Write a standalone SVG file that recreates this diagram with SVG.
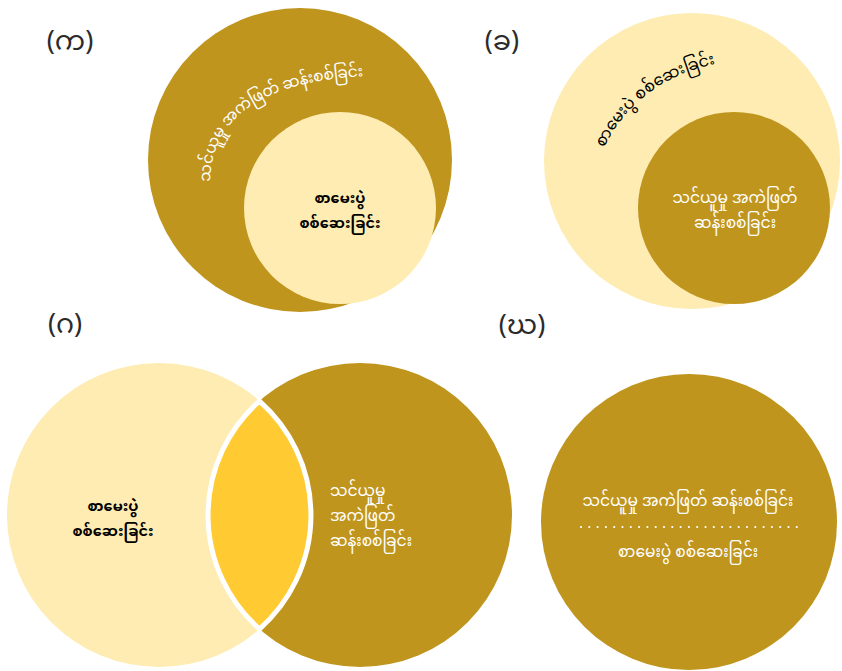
<svg xmlns="http://www.w3.org/2000/svg" width="842" height="671" viewBox="0 0 842 671">
<defs>
<style>
.dark{fill:#BF951E}
.light{fill:#FEECB2}
.lens{fill:#FFCA32;stroke:#FFFFFF;stroke-width:5}
text{font-family:"Noto Sans Myanmar","Padauk","Myanmar Text","Noto Sans",sans-serif}
.lbl{font-size:27px;fill:#2B2B2B;font-weight:normal}
.w{fill:#FFFFFF;font-size:15.5px}
.b{fill:#000000;font-size:14.5px;font-weight:bold}
.bn{fill:#000000;font-size:16px}
</style>
<path id="arcA" d="M 210 182 Q 212 84 366 76"/>
<path id="arcB" d="M 604 148 Q 638 78 724 62"/>
</defs>

<g id="panel-ka">
<text class="lbl" x="70" y="50" text-anchor="middle">(က)</text>
<circle class="dark" cx="300" cy="160" r="152"/>
<text class="w" style="font-size:15.5px"><textPath href="#arcA" textLength="208" lengthAdjust="spacing">သင်ယူမှု အကဲဖြတ် ဆန်းစစ်ခြင်း</textPath></text>
<g id="ka-inner">
<circle class="light" cx="340" cy="208" r="96"/>
<text class="b" x="340" y="203" text-anchor="middle">စာမေးပွဲ</text>
<text class="b" x="340" y="228" text-anchor="middle">စစ်ဆေးခြင်း</text>
</g>
</g>

<g id="panel-kha">
<text class="lbl" x="502" y="50" text-anchor="middle">(ခ)</text>
<circle class="light" cx="692" cy="161" r="148"/>
<text class="bn"><textPath href="#arcB">စာမေးပွဲ စစ်ဆေးခြင်း</textPath></text>
<g id="kha-inner">
<circle class="dark" cx="734" cy="208" r="96"/>
<text class="w" x="735" y="203" text-anchor="middle">သင်ယူမှု အကဲဖြတ်</text>
<text class="w" x="735" y="228" text-anchor="middle">ဆန်းစစ်ခြင်း</text>
</g>
</g>

<g id="panel-ga">
<text class="lbl" x="65" y="333" text-anchor="middle">(ဂ)</text>
<g id="ga-left">
<circle class="light" cx="159" cy="515" r="152"/>
<text class="b" x="113" y="511" text-anchor="middle">စာမေးပွဲ</text>
<text class="b" x="113" y="536" text-anchor="middle">စစ်ဆေးခြင်း</text>
</g>
<g id="ga-right">
<circle class="dark" cx="360" cy="515" r="152"/>
<text class="w" x="330" y="496">သင်ယူမှု</text>
<text class="w" x="330" y="521">အကဲဖြတ်</text>
<text class="w" x="330" y="546">ဆန်းစစ်ခြင်း</text>
</g>
<path id="ga-lens" class="lens" d="M 259.5 401 A 152 152 0 0 1 259.5 629 A 152 152 0 0 1 259.5 401 Z"/>
</g>

<g id="panel-gha">
<text class="lbl" x="522" y="334" text-anchor="middle">(ဃ)</text>
<circle class="dark" cx="689" cy="522" r="148"/>
<text class="w" x="688" y="506" text-anchor="middle">သင်ယူမှု အကဲဖြတ် ဆန်းစစ်ခြင်း</text>
<line x1="581" y1="527" x2="797" y2="527" stroke="#FFFFFF" stroke-width="2.2" stroke-linecap="round" stroke-dasharray="0 8.3"/>
<text class="w" x="688" y="557" text-anchor="middle">စာမေးပွဲ စစ်ဆေးခြင်း</text>
</g>
</svg>
